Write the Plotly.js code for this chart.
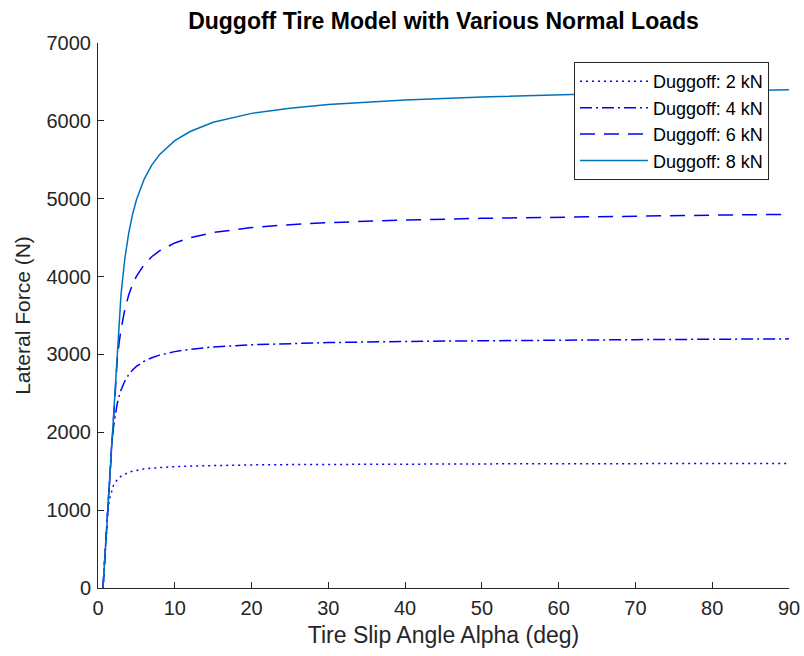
<!DOCTYPE html>
<html>
<head>
<meta charset="utf-8">
<script src="https://cdn.plot.ly/plotly-3.0.1.min.js"></script>
<style>
  html, body { margin: 0; padding: 0; background: #ffffff; }
  #chart { width: 804px; height: 656px; }
</style>
</head>
<body>
<div id="chart"></div>
<script>
// Slip angle samples (deg)
const alphaDeg = [0.65, 1, 1.25, 1.5, 1.75, 2, 2.25, 2.5, 2.75, 3, 3.5, 4, 4.5, 5, 6, 7, 8, 10, 12, 15, 20, 25, 30, 40, 50, 60, 70, 80, 90];

// Lateral force (N) for each normal load
const force2kN = [0, 580, 957, 1146, 1249, 1314, 1359, 1391, 1416, 1436, 1465, 1485, 1500, 1511, 1528, 1539, 1548, 1559, 1566, 1574, 1581, 1585, 1588, 1592, 1594, 1596, 1597, 1599, 1600];
const force4kN = [0, 580, 995, 1409, 1797, 2057, 2235, 2366, 2465, 2543, 2659, 2740, 2800, 2846, 2912, 2958, 2991, 3036, 3066, 3096, 3124, 3141, 3152, 3167, 3177, 3184, 3190, 3195, 3200];
const force6kN = [0, 580, 995, 1409, 1824, 2239, 2629, 2923, 3147, 3323, 3582, 3764, 3899, 4003, 4153, 4255, 4330, 4432, 4498, 4566, 4629, 4667, 4693, 4726, 4748, 4764, 4777, 4789, 4800];
const force8kN = [0, 580, 995, 1409, 1824, 2239, 2653, 3068, 3461, 3774, 4235, 4559, 4798, 4983, 5249, 5432, 5564, 5745, 5863, 5983, 6096, 6163, 6209, 6269, 6308, 6337, 6360, 6380, 6400];

const seriesNames = ['Duggoff: 2 kN', 'Duggoff: 4 kN', 'Duggoff: 6 kN', 'Duggoff: 8 kN'];

const xTicks = [0, 10, 20, 30, 40, 50, 60, 70, 80, 90];
const yTicks = [0, 1000, 2000, 3000, 4000, 5000, 6000, 7000];

const FONT = 'Liberation Sans, Arial, Helvetica, sans-serif';
const AXIS_COLOR = '#262626';

function trace(y, name, color, dash) {
  return {
    x: alphaDeg, y: y, name: name, type: 'scatter', mode: 'lines',
    line: { color: color, width: 1.5, dash: dash }
  };
}

const data = [
  trace(force2kN, seriesNames[0], '#0000ff', '2px,4px'),
  trace(force4kN, seriesNames[1], '#0000ff', '12px,4px,2px,4px'),
  trace(force6kN, seriesNames[2], '#0000ff', '15px,9px'),
  trace(force8kN, seriesNames[3], '#0072bd', 'solid')
];

const axisCommon = {
  showline: true, linecolor: AXIS_COLOR, linewidth: 1,
  ticks: 'inside', ticklen: 6, tickwidth: 1, tickcolor: AXIS_COLOR,
  showgrid: false, zeroline: false, mirror: false,
  tickfont: { family: FONT, size: 20, color: AXIS_COLOR },
  ticklabelstandoff: 2
};

const layout = {
  width: 804, height: 656,
  paper_bgcolor: '#ffffff', plot_bgcolor: '#ffffff',
  margin: { l: 98, r: 15, t: 43, b: 68 },
  showlegend: true,
  title: {
    text: '<b>Duggoff Tire Model with Various Normal Loads</b>',
    font: { family: FONT, size: 23, color: '#000000' },
    x: 0.5, xref: 'paper', xanchor: 'center',
    y: 1 - 21 / 656, yref: 'container', yanchor: 'middle'
  },
  xaxis: Object.assign({}, axisCommon, {
    range: [0, 90], tickvals: xTicks, ticktext: xTicks.map(String),
    title: { text: 'Tire Slip Angle Alpha (deg)', font: { family: FONT, size: 23, color: AXIS_COLOR }, standoff: 8 }
  }),
  yaxis: Object.assign({}, axisCommon, {
    range: [0, 7000], tickvals: yTicks, ticktext: yTicks.map(String),
    title: { text: 'Lateral Force (N)', font: { family: FONT, size: 21, color: AXIS_COLOR }, standoff: 10 }
  }),
  legend: {
    x: 0.971, xanchor: 'right', y: 0.965, yanchor: 'top',
    bgcolor: '#ffffff', bordercolor: AXIS_COLOR, borderwidth: 1,
    font: { family: FONT, size: 18, color: '#000000' },
    itemwidth: 68, tracegroupgap: 0
  }
};

Plotly.newPlot('chart', data, layout, { displayModeBar: false, staticPlot: true });
</script>
</body>
</html>
